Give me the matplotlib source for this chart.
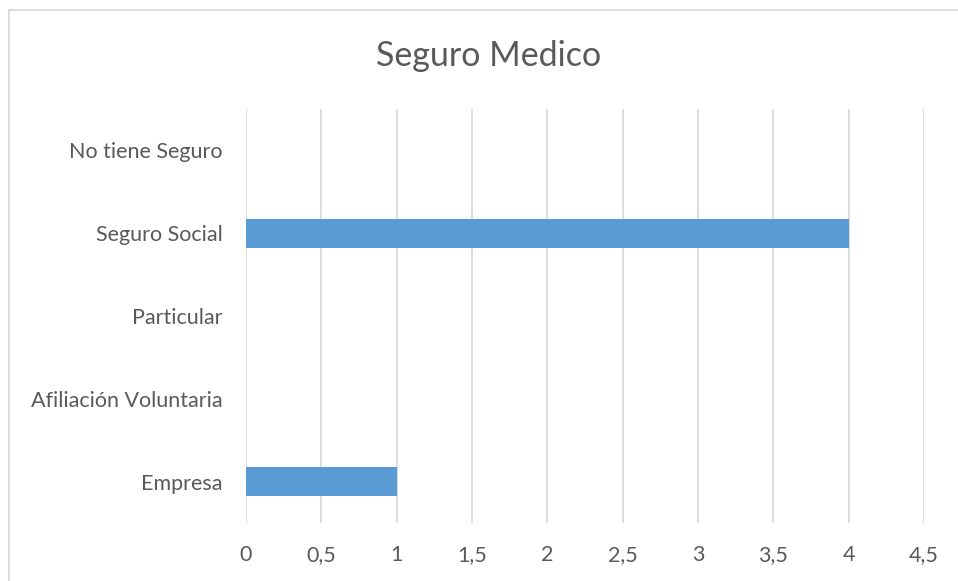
import matplotlib
matplotlib.use("Agg")
import matplotlib.pyplot as plt
from matplotlib.patches import Rectangle

categories = ["Empresa", "Afiliación Voluntaria", "Particular", "Seguro Social", "No tiene Seguro"]
values = [1, 0, 0, 4, 0]
xticks = [0, 0.5, 1, 1.5, 2, 2.5, 3, 3.5, 4, 4.5]
xticklabels = ["0", "0,5", "1", "1,5", "2", "2,5", "3", "3,5", "4", "4,5"]
title = "Seguro Medico"

plt.rcParams['font.family'] = ['Lato', 'DejaVu Sans']
W, H = 958, 581
fig = plt.figure(figsize=(W / 100, H / 100), dpi=100)
fig.patch.set_facecolor("white")

# chart-area border
fig.patches.append(Rectangle((9 / W, -0.1), 1.2, 1 - 10 / H + 0.1, transform=fig.transFigure,
                             fill=False, edgecolor="#D9D9D9", linewidth=1.3))

ax = fig.add_axes([246 / W, 1 - 523 / H, (924 - 246) / W, (523 - 109) / H])
ypos = list(range(len(categories)))
ax.barh(ypos, values, height=0.35, color="#5B9BD5", zorder=3)
ax.set_xlim(0, 4.5)
ax.set_ylim(-0.5, len(categories) - 0.5)
ax.set_xticks(xticks)
ax.set_xticklabels(xticklabels)
ax.set_yticks(ypos)
ax.set_yticklabels(categories)
ax.tick_params(axis="both", length=0, labelsize=15.5, labelcolor="#595959")
ax.tick_params(axis="x", pad=16)
ax.tick_params(axis="y", pad=17)
ax.grid(axis="x", color="#D9D9D9", linewidth=1.3, zorder=0)
for s in ax.spines.values():
    s.set_visible(False)

fig.text(489 / W, 1 - 56 / H, title, ha="center", va="center", fontsize=24.5, color="#595959")

fig.savefig("out.png", dpi=100, facecolor="white")
